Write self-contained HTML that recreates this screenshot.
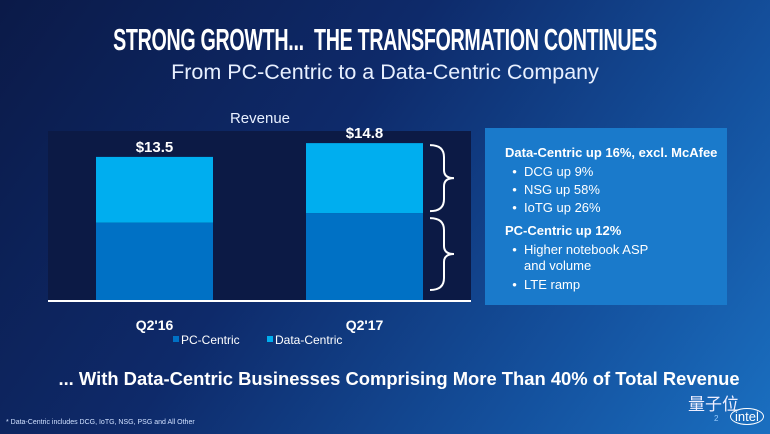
<!DOCTYPE html>
<html><head><meta charset="utf-8"><style>
body{margin:0;width:770px;height:434px;overflow:hidden;font-family:"Liberation Sans","Noto Sans CJK SC",sans-serif;}
#slide{position:relative;width:770px;height:434px;background:linear-gradient(125deg,#0b1a48 0%,#0e2a6a 40%,#14519e 75%,#1a6fc0 100%);color:#fff;}
.t{position:absolute;white-space:nowrap;}
</style></head><body>
<div id="slide">
<div class="t" style="left:385px;top:22px;font-size:31px;font-weight:bold;transform:translateX(-50%) scaleX(0.635);letter-spacing:-0.5px">STRONG GROWTH...&nbsp; THE TRANSFORMATION CONTINUES</div>
<div class="t" style="left:0;width:770px;text-align:center;top:60px;font-size:21.5px;color:#e8f0ff">From PC-Centric to a Data-Centric Company</div>
<svg id="chart" width="770" height="434" style="position:absolute;left:0;top:0"></svg>
<div style="position:absolute;left:485px;top:128px;width:242px;height:177px;background:#1a7acb;">
<div class="t" style="left:20px;top:17px;font-size:13px;font-weight:bold">Data-Centric up 16%, excl. McAfee</div>
<div class="t" style="left:20px;top:36px;font-size:13px">&nbsp;&nbsp;•&nbsp; DCG up 9%</div>
<div class="t" style="left:20px;top:54px;font-size:13px">&nbsp;&nbsp;•&nbsp; NSG up 58%</div>
<div class="t" style="left:20px;top:72px;font-size:13px">&nbsp;&nbsp;•&nbsp; IoTG up 26%</div>
<div class="t" style="left:20px;top:95px;font-size:13px;font-weight:bold">PC-Centric up 12%</div>
<div class="t" style="left:20px;top:114px;font-size:13px">&nbsp;&nbsp;•&nbsp; Higher notebook ASP</div>
<div class="t" style="left:39px;top:130px;font-size:13px">and volume</div>
<div class="t" style="left:20px;top:149px;font-size:13px">&nbsp;&nbsp;•&nbsp; LTE ramp</div>
</div>
<div class="t" style="left:0;width:770px;text-align:center;top:368px;font-size:18.4px;font-weight:bold;transform:translateX(14px)">... With Data-Centric Businesses Comprising More Than 40% of Total Revenue</div>
<div class="t" style="left:6px;top:419px;font-size:7px;color:#cfe0ff">* Data-Centric includes DCG, IoTG, NSG, PSG and All Other</div>
<div class="t" style="left:688px;top:390px;font-size:17px;color:#eef">量子位</div>
<div class="t" style="left:714px;top:414px;font-size:8px;color:#9cf">2</div>
<div class="t" style="left:730px;top:408px;font-size:13px;border:1.5px solid #fff;border-radius:50%;padding:0 4px;">intel</div>
</div>
<script>
const categories=["Q2'16","Q2'17"];
const pcValues=[7.3,8.2];
const dcValues=[6.2,6.6];
const totalLabels=["$13.5","$14.8"];
const svg=document.getElementById('chart');
const NS="http://www.w3.org/2000/svg";
const base=300,scale=10.6;
const y=v=>base-v*scale;
const xs=[96,306],bw=117;
function mk(t,a,p){const e=document.createElementNS(NS,t);for(const k in a)e.setAttribute(k,a[k]);(p||svg).appendChild(e);return e;}
const panel=mk('rect',{x:48,y:131,width:423,height:170,fill:'#0c1a45'});


const rt=mk('text',{x:260,y:123,'text-anchor':'middle','font-size':15,fill:'#e8f0ff'});rt.textContent='Revenue';


categories.forEach((c,i)=>{
  const x=xs[i];
  const p=mk('rect',{x:x,y:y(pcValues[i]),width:bw,height:pcValues[i]*scale,fill:'#0071c5'});
  
  
  const d=mk('rect',{x:x,y:y(pcValues[i]+dcValues[i]),width:bw,height:dcValues[i]*scale,fill:'#00aeef'});
  
  
  const tl=mk('text',{x:x+bw/2,y:y(pcValues[i]+dcValues[i])-5,'text-anchor':'middle','font-size':15,'font-weight':'bold',fill:'#fff'});tl.textContent=totalLabels[i];
  
  
  const cl=mk('text',{x:x+bw/2,y:330,'text-anchor':'middle','font-size':14,'font-weight':'bold',fill:'#fff'});cl.textContent=c;
  
  
});
const ax=mk('line',{x1:48,x2:471,y1:301,y2:301,stroke:'#fff','stroke-width':2});


function brace(y1,y2){const m=(y1+y2)/2,x=430;
 return `M${x},${y1} Q${x+14},${y1} ${x+14},${y1+12} L${x+14},${m-8} Q${x+14},${m} ${x+24},${m} Q${x+14},${m} ${x+14},${m+8} L${x+14},${y2-12} Q${x+14},${y2} ${x},${y2}`;}
const i2=1;
const b1=mk('path',{d:brace(y(pcValues[i2]+dcValues[i2])+2,y(pcValues[i2])-2),fill:'none',stroke:'#fff','stroke-width':2});


const b2=mk('path',{d:brace(y(pcValues[i2])+5,base-10),fill:'none',stroke:'#fff','stroke-width':2});


[['PC-Centric','#0071c5',173],['Data-Centric','#00aeef',267]].forEach(l=>{
  const g=mk('g',{});
  
  
  mk('rect',{x:l[2],y:336,width:6,height:6,fill:l[1]},g);
  const t=mk('text',{x:l[2]+8,y:344,'font-size':12,fill:'#fff'},g);t.textContent=l[0];
});
</script>
</body></html>
